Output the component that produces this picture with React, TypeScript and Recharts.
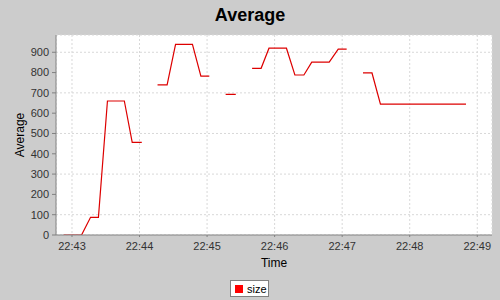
import { LineChart, Line, XAxis, YAxis, CartesianGrid } from "recharts";

// seconds after 22:43:00, null marks a missing sample (gap in the line)
const times = [
    -7.5, 0.5, 8.5, 16.5, 23.5, 31.5, 39, 46.5, 53.5, 62, 69,
    76, 84.5, 92, 99.5, 107, 114.5, 122, 129,
    136.5, 145.5, 152.5,
    160, 168, 175, 183, 190.5, 198, 206, 213, 221, 228.5, 236.5, 244, 251,
    258.5, 266.5, 274, 281.5, 289, 297, 304.5, 312, 320, 327.5, 335, 343, 350
]
const sizes: (number | null)[] = [
    0, 0, 0, 87, 87, 660, 660, 660, 456, 456, null,
    739, 739, 939, 939, 939, 782, 782, null,
    693, 693, null,
    821, 821, 920, 920, 920, 788, 788, 851, 851, 851, 915, 915, null,
    798, 798, 645, 645, 645, 645, 645, 645, 645, 645, 645, 645, 645
]
const timeTicks = [0, 60, 120, 180, 240, 300, 360]
const averageTicks = [0, 100, 200, 300, 400, 500, 600, 700, 800, 900]

const dataChart = times.map((t, i) => ({ t: t, size: sizes[i] }))

function formatTime(t: number) {
    const m = 43 + Math.round(t / 60)
    return `22:${m < 10 ? "0" + m : m}`
}

const font = "'Liberation Sans', Arial, sans-serif"
const tickStyle = { fontSize: 11, fill: "#333", fontFamily: font }

export default function App() {
    return <div style={{ position: "relative", width: 500, height: 300, background: "#cccccc", fontFamily: font }}>
        <style>{"body { margin: 0; }"}</style>
        <div style={{ position: "absolute", left: 0, top: 5, width: 500, textAlign: "center", fontSize: 18, fontWeight: "bold", color: "#000" }}>
            Average
        </div>
        <LineChart width={500} height={300} data={dataChart} margin={{ top: 35, right: 8, left: 0, bottom: 25 }}>
            <CartesianGrid stroke="#d8d8d8" strokeDasharray="2 2" fill="#ffffff" />
            <XAxis
                dataKey="t"
                type="number"
                domain={[-14.2, 373.1]}
                ticks={timeTicks}
                tickFormatter={formatTime}
                height={40}
                tickSize={2}
                tickMargin={5}
                stroke="#808080"
                tick={tickStyle}
                label={{ value: "Time", position: "center", dy: 8, fontSize: 12, fill: "#000", fontFamily: font }}
            />
            <XAxis xAxisId="top" orientation="top" dataKey="t" type="number" domain={[-14.2, 373.1]} height={0} tick={false} tickLine={false} stroke="#808080" />
            <YAxis
                type="number"
                domain={[0, 985]}
                ticks={averageTicks}
                width={56}
                tickSize={4}
                tickMargin={3}
                stroke="#808080"
                tick={tickStyle}
                allowDataOverflow
                label={{ value: "Average", angle: -90, position: "center", dx: -8, fontSize: 12, fill: "#000", fontFamily: font }}
            />
            <YAxis yAxisId="right" orientation="right" domain={[0, 985]} width={0} tick={false} tickLine={false} stroke="#808080" />
            <Line dataKey="size" type="linear" stroke="#dd0000" strokeWidth={1.2} dot={false} connectNulls={false} isAnimationActive={false} />
        </LineChart>
        <div style={{ position: "absolute", left: 230, top: 280, width: 37, height: 15, border: "1px solid #808080", background: "#fff", fontSize: 11, display: "flex", alignItems: "center" }}>
            <span style={{ display: "inline-block", width: 8, height: 8, background: "#ff0000", marginLeft: 4, marginRight: 4 }} />
            <span>size</span>
        </div>
    </div>
}
